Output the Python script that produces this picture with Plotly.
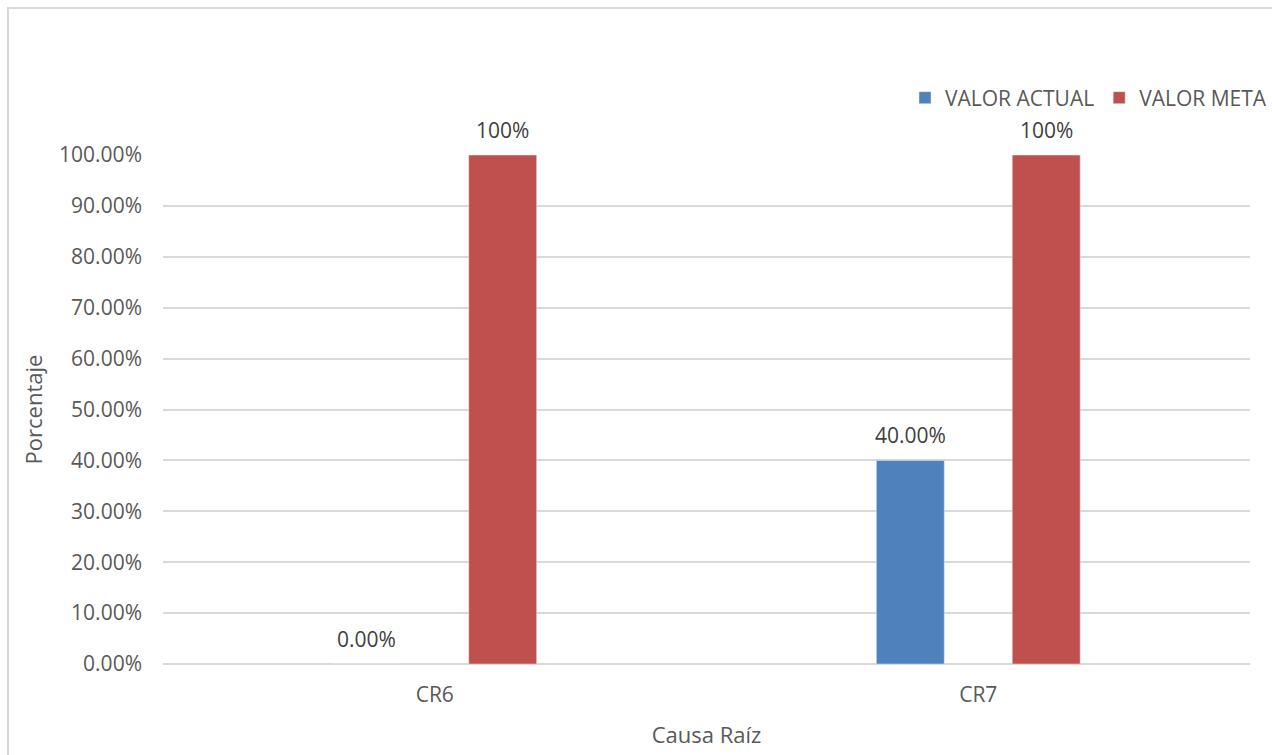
import plotly.graph_objects as go

# Causa raíz categories and their percentage values
categorias = ["CR6", "CR7"]
valor_actual = [0.0, 0.40]
valor_meta = [1.0, 1.0]

AZUL = "#4f81bd"
ROJO = "#c0504d"
TEXTO = "#595959"
ETIQUETA = "#404040"
FUENTE = "Open Sans"

series = [
    ("VALOR ACTUAL", valor_actual, AZUL, lambda v: f"{v:.2%}"),
    ("VALOR META", valor_meta, ROJO, lambda v: f"{v:.0%}"),
]

fig = go.Figure()
for nombre, valores, color, _ in series:
    fig.add_trace(go.Bar(name=nombre, x=categorias, y=valores, marker_color=color))

# Value labels above each bar, shifted onto their bar within the group
PLOT_W = 1272 - 163 - 22
ancho_slot = PLOT_W / len(categorias) * 0.5 / len(series)
anotaciones = []
for i, (nombre, valores, color, fmt) in enumerate(series):
    desplazamiento = (i - (len(series) - 1) / 2) * ancho_slot
    for cat, v in zip(categorias, valores):
        anotaciones.append(dict(
            x=cat, y=v, xref="x", yref="y", text=fmt(v), showarrow=False,
            xshift=desplazamiento, yshift=25, yanchor="middle",
            font=dict(family=FUENTE, size=21, color=ETIQUETA),
        ))

fig.update_layout(
    width=1272, height=755,
    margin=dict(l=163, r=22, t=155, b=91),
    paper_bgcolor="white", plot_bgcolor="white",
    barmode="group", bargap=0.5, bargroupgap=0.5,
    font=dict(family=FUENTE, size=21, color=TEXTO),
    annotations=anotaciones,
    legend=dict(orientation="h", xref="container", yref="container",
                x=1.0, xanchor="right", y=1 - 98 / 755, yanchor="middle",
                font=dict(family=FUENTE, size=21, color=TEXTO), itemwidth=30,
                traceorder="normal", tracegroupgap=0),
    xaxis=dict(
        showgrid=False, zeroline=False, showline=False, ticks="",
        ticklabelstandoff=16,
        tickfont=dict(family=FUENTE, size=21, color=TEXTO),
        title=dict(text="Causa Raíz", font=dict(family=FUENTE, size=22, color=TEXTO), standoff=20),
    ),
    yaxis=dict(
        range=[0, 1], tickvals=[i / 10 for i in range(11)], tickformat=".2%",
        showgrid=True, gridcolor="#d9d9d9", gridwidth=1.5,
        zeroline=True, zerolinecolor="#d9d9d9", zerolinewidth=1.5,
        ticks="", ticklabelstandoff=20,
        tickfont=dict(family=FUENTE, size=21, color=TEXTO),
        title=dict(text="Porcentaje", font=dict(family=FUENTE, size=22, color=TEXTO), standoff=10),
    ),
    shapes=[dict(type="rect", xref="paper", yref="paper",
                 x0=-0.1426, x1=1.5, y0=-0.5, y1=1.2888,
                 line=dict(color="#d9d9d9", width=2), fillcolor="rgba(0,0,0,0)", layer="below")],
)

fig.write_html("out.html")
